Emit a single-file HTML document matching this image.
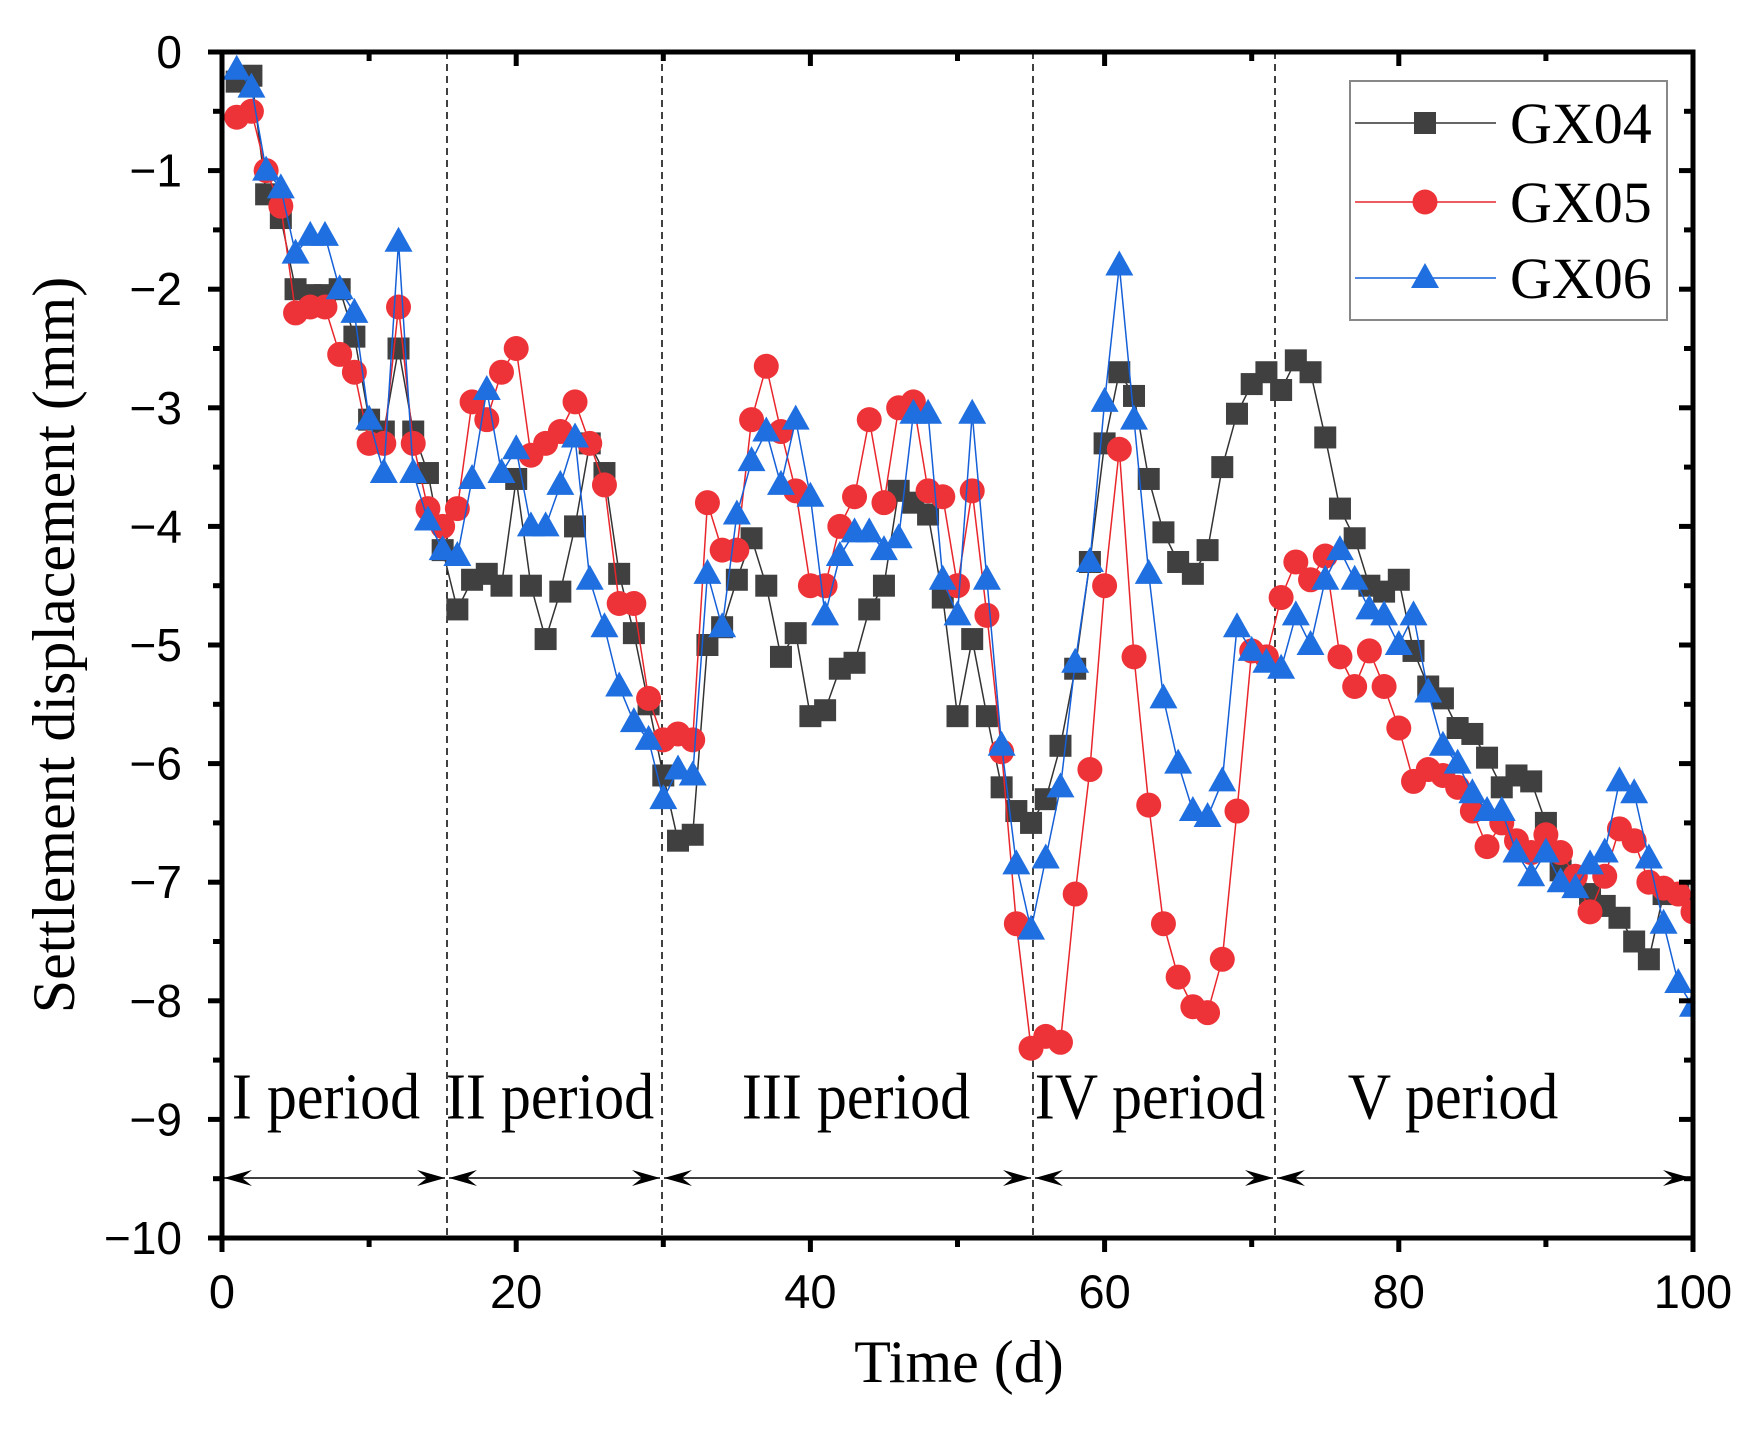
<!DOCTYPE html>
<html><head><meta charset="utf-8"><style>body{margin:0;background:#fff}svg{display:block}</style></head>
<body>
<svg id="s" width="1759" height="1440" xmlns="http://www.w3.org/2000/svg">
<defs>
<marker id="ah" markerWidth="30" markerHeight="20" refX="28" refY="10" orient="auto-start-reverse" markerUnits="userSpaceOnUse"><path d="M0,2 L28,10 L0,18 L10,10 Z" fill="#000"/></marker>
</defs>
<g id="g"></g>
</svg>
<script>
const X=t=>222+t*14.71, Y=v=>52-v*118.6;
const g=document.getElementById('g');let h='';
const a=[-0.25,-0.2,-1.2,-1.4,-2.0,-2.05,-2.05,-2.0,-2.4,-3.1,-3.2,-2.5,-3.2,-3.55,-4.2,-4.7,-4.45,-4.4,-4.5,-3.6,-4.5,-4.95,-4.55,-4.0,-3.3,-3.55,-4.4,-4.9,-5.5,-6.1,-6.65,-6.6,-5.0,-4.85,-4.45,-4.1,-4.5,-5.1,-4.9,-5.6,-5.55,-5.2,-5.15,-4.7,-4.5,-3.7,-3.8,-3.9,-4.6,-5.6,-4.95,-5.6,-6.2,-6.4,-6.5,-6.3,-5.85,-5.2,-4.3,-3.3,-2.7,-2.9,-3.6,-4.05,-4.3,-4.4,-4.2,-3.5,-3.05,-2.8,-2.7,-2.85,-2.6,-2.7,-3.25,-3.85,-4.1,-4.5,-4.55,-4.45,-5.05,-5.35,-5.45,-5.7,-5.75,-5.95,-6.2,-6.1,-6.15,-6.5,-6.9,-7.0,-7.1,-7.2,-7.3,-7.5,-7.65,-7.1,-7.1,-7.2];
const b=[-0.55,-0.5,-1.0,-1.3,-2.2,-2.15,-2.15,-2.55,-2.7,-3.3,-3.3,-2.15,-3.3,-3.85,-4.0,-3.85,-2.95,-3.1,-2.7,-2.5,-3.4,-3.3,-3.2,-2.95,-3.3,-3.65,-4.65,-4.65,-5.45,-5.8,-5.75,-5.8,-3.8,-4.2,-4.2,-3.1,-2.65,-3.2,-3.7,-4.5,-4.5,-4.0,-3.75,-3.1,-3.8,-3.0,-2.95,-3.7,-3.75,-4.5,-3.7,-4.75,-5.9,-7.35,-8.4,-8.3,-8.35,-7.1,-6.05,-4.5,-3.35,-5.1,-6.35,-7.35,-7.8,-8.05,-8.1,-7.65,-6.4,-5.05,-5.1,-4.6,-4.3,-4.45,-4.25,-5.1,-5.35,-5.05,-5.35,-5.7,-6.15,-6.05,-6.1,-6.2,-6.4,-6.7,-6.5,-6.65,-6.75,-6.6,-6.75,-6.95,-7.25,-6.95,-6.55,-6.65,-7.0,-7.05,-7.1,-7.25];
const c=[-0.15,-0.3,-1.0,-1.15,-1.7,-1.55,-1.55,-2.0,-2.2,-3.1,-3.55,-1.6,-3.55,-3.95,-4.2,-4.25,-3.6,-2.85,-3.55,-3.35,-4.0,-4.0,-3.65,-3.25,-4.45,-4.85,-5.35,-5.65,-5.8,-6.3,-6.05,-6.1,-4.4,-4.85,-3.9,-3.45,-3.2,-3.65,-3.1,-3.75,-4.75,-4.25,-4.05,-4.05,-4.2,-4.1,-3.05,-3.05,-4.45,-4.75,-3.05,-4.45,-5.85,-6.85,-7.4,-6.8,-6.2,-5.15,-4.3,-2.95,-1.8,-3.1,-4.4,-5.45,-6.0,-6.4,-6.45,-6.15,-4.85,-5.05,-5.15,-5.2,-4.75,-5.0,-4.45,-4.2,-4.45,-4.7,-4.75,-5.0,-4.75,-5.4,-5.85,-6.0,-6.25,-6.4,-6.4,-6.75,-6.95,-6.75,-7.0,-7.05,-6.85,-6.75,-6.15,-6.25,-6.8,-7.35,-7.85,-8.05];
h+='<rect x="222" y="52" width="1471" height="1186" fill="#fff"/>';
[447,662,1033,1275].forEach(x=>h+=`<line x1="${x}" y1="52" x2="${x}" y2="1238" stroke="#000" stroke-width="1.5" stroke-dasharray="7,5"/>`);
[[222,447],[447,662],[662,1033],[1033,1275],[1275,1693]].forEach(([p,q])=>h+=`<line x1="${p+2}" y1="1178" x2="${q-2}" y2="1178" stroke="#000" stroke-width="1.5" marker-start="url(#ah)" marker-end="url(#ah)"/>`);
const F='font-family="Liberation Serif, serif"';
[['I period',326],['II period',550],['III period',856],['IV period',1150],['V period',1453]].forEach(([t,x])=>h+=`<text x="${x}" y="1118" ${F} font-size="60" text-anchor="middle" transform="translate(${x},0) scale(1,1.1) translate(${-x},-101)">${t}</text>`);
function line(d,col){return `<polyline fill="none" stroke="${col}" stroke-width="1.5" points="${d.map((v,i)=>X(i+1)+','+Y(v)).join(' ')}"/>`}
h+=`<svg x="0" y="0" width="1693" height="1440" overflow="hidden"><g>`;
const sq=(x,y)=>`<rect x="${x-11}" y="${y-11}" width="22" height="22" fill="#404040"/>`;
const ci=(x,y)=>`<circle cx="${x}" cy="${y}" r="12.5" fill="#ee3338"/>`;
const tr=(x,y)=>`<path d="M${x},${y-15} L${x+14},${y+10} L${x-14},${y+10}Z" fill="#1f6fe0"/>`;
h+=line(a,'#333');a.forEach((v,i)=>h+=sq(X(i+1),Y(v)));
h+=line(b,'#e8262b');b.forEach((v,i)=>h+=ci(X(i+1),Y(v)));
h+=line(c,'#1560d8');c.forEach((v,i)=>h+=tr(X(i+1),Y(v)));
h+='</g></svg>';
h+='<rect x="222" y="52" width="1471" height="1186" fill="none" stroke="#000" stroke-width="5"/>';
const S='font-family="Liberation Sans, sans-serif"';
for(let t=0;t<=100;t+=10){const x=X(t),M=t%20==0;h+=`<line x1="${x}" y1="1238" x2="${x}" y2="${1238+(M?14:9)}" stroke="#000" stroke-width="5"/><line x1="${x}" y1="52" x2="${x}" y2="${52+(M?14:9)}" stroke="#000" stroke-width="5"/>`;
 if(M)h+=`<text x="${x}" y="1308" ${S} font-size="47" text-anchor="middle">${t}</text>`;}
for(let v=0;v>=-10;v-=0.5){const y=Y(v),M=Number.isInteger(v);h+=`<line x1="222" y1="${y}" x2="${222-(M?14:9)}" y2="${y}" stroke="#000" stroke-width="5"/><line x1="1693" y1="${y}" x2="${1693-(M?14:9)}" y2="${y}" stroke="#000" stroke-width="5"/>`;
 if(M)h+=`<text x="182" y="${y+16}" ${S} font-size="46" text-anchor="end">${v==0?'0':'\u2212'+(-v)}</text>`;}
h+=`<text x="959" y="1382" ${F} font-size="60" text-anchor="middle">Time (d)</text>`;
h+=`<text transform="translate(74,645) rotate(-90)" ${F} font-size="60" text-anchor="middle">Settlement displacement (mm)</text>`;
h+='<rect x="1350" y="81" width="317" height="239" fill="#fff" stroke="#888" stroke-width="2"/>';
[[123,'#333',sq,'GX04'],[202,'#e8262b',ci,'GX05'],[278,'#1560d8',tr,'GX06']].forEach(([y,col,m,t])=>{h+=`<line x1="1355" y1="${y}" x2="1496" y2="${y}" stroke="${col}" stroke-width="1.5"/>`+m(1425,y)+`<text x="1510" y="${y+20}" ${F} font-size="58">${t}</text>`});
g.innerHTML=h;
</script>
</body></html>
